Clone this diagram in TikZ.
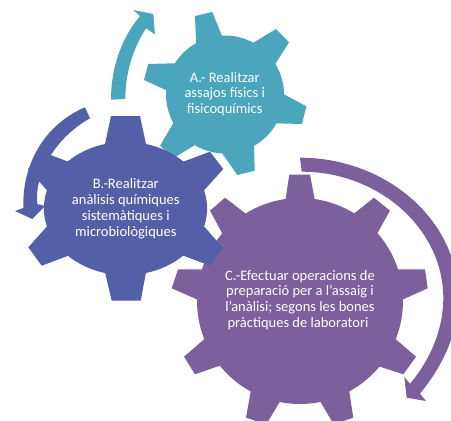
\documentclass[tikz,border=0pt]{standalone}
\usepackage{fontspec}
\setmainfont{Carlito}
\usepackage{tikz}
\usetikzlibrary{calc}

\definecolor{tealgear}{RGB}{75,166,189}
\definecolor{bluegear}{RGB}{83,96,168}
\definecolor{purplegear}{RGB}{123,96,155}

\tikzset{
    geartext/.style={text=white, align=center, font=\fontsize{14.5}{15.8}\selectfont, inner sep=0pt}
}

\newcommand{\geartooth}[5]{\fill[#1] ($#2!-4pt!#3$) -- #3 -- #4 -- ($#5!-4pt!#4$) -- cycle;}

\begin{document}
\begin{tikzpicture}[x=1pt, y=-1pt]
        \useasboundingbox (0, 0) rectangle (451, 421);
        \clip (0, 0) rectangle (451, 421);

        \fill[tealgear] (225, 94.5) ellipse [x radius=59, y radius=59];
        \geartooth{tealgear}{(196, 42)}{(195, 16)}{(212.3, 12)}{(225, 43.3)}
        \geartooth{tealgear}{(254, 42.3)}{(276, 29)}{(289, 42.3)}{(275.7, 63.3)}
        \geartooth{tealgear}{(283.3, 94)}{(306.3, 106.3)}{(302, 124)}{(275.7, 123.3)}
        \geartooth{tealgear}{(254, 144.3)}{(254.7, 170.7)}{(237.3, 175)}{(221.7, 152.7)}
        \geartooth{tealgear}{(195, 145)}{(173.3, 158.3)}{(160, 145.7)}{(173.3, 123.3)}
        \geartooth{tealgear}{(165.7, 90)}{(144, 80)}{(148.3, 64)}{(174, 63.3)}
        \fill[tealgear] (111, 99.7) .. controls (111, 70) and (120, 40) .. (140, 16)
            -- (133.3, 10) -- (153.3, 14) -- (155, 34.3) -- (146, 28.3)
            .. controls (132, 50) and (125.3, 75) .. (125.3, 99) -- cycle;

        \fill[purplegear] (300, 301) ellipse [x radius=103, y radius=103];
        \geartooth{purplegear}{(285.3, 200.7)}{(289.3, 174.7)}{(310, 174.7)}{(315, 200.7)}
        \geartooth{purplegear}{(354.3, 213.3)}{(374, 197.7)}{(390, 210.7)}{(377.3, 233.3)}
        \geartooth{purplegear}{(397.7, 269.3)}{(425, 269.3)}{(427.7, 288.3)}{(403.3, 299.3)}
        \geartooth{purplegear}{(396.7, 340)}{(416, 356.7)}{(403.3, 374.3)}{(380, 366.7)}
        \fill[purplegear] (348.7, 387.7) -- (353.3, 417.7) -- (343, 421) -- (331.7, 421) -- (319, 399.3) -- cycle;
        \fill[purplegear] (281.3, 399.3) -- (268.3, 421) -- (256, 421) -- (246, 417.7) -- (251.4, 387.7) -- cycle;
        \geartooth{purplegear}{(219, 366)}{(195, 374.3)}{(184, 356.7)}{(203.3, 340)}
        \geartooth{purplegear}{(196.7, 299.3)}{(171.7, 288.3)}{(178, 269.3)}{(201.7, 269.3)}
        \geartooth{purplegear}{(222, 233)}{(210, 210.7)}{(225, 197.7)}{(245, 213)}
        \fill[purplegear] (300, 157.7) .. controls (386, 157.7) and (458, 220) .. (458, 296)
            .. controls (458, 335) and (443, 365) .. (420, 393.7)
            -- (426, 401) -- (406.7, 397.7) -- (404.3, 377) -- (410, 383.7)
            .. controls (430, 360) and (443.3, 330) .. (443.3, 298)
            .. controls (443.3, 229) and (379, 171.7) .. (301.7, 171.7) -- cycle;

        \fill[bluegear] (125.5, 208.5) ellipse [x radius=81.6, y radius=66.6];
        \geartooth{bluegear}{(105, 144)}{(111, 116)}{(140, 116)}{(146, 144)}
        \geartooth{bluegear}{(183.3, 161.7)}{(210, 151.7)}{(223.3, 169)}{(204.3, 190)}
        \geartooth{bluegear}{(204.3, 226.7)}{(223.3, 248.3)}{(210, 265.7)}{(183.3, 255.7)}
        \geartooth{bluegear}{(146, 272.3)}{(140.7, 300.7)}{(111.7, 300.7)}{(105, 272.3)}
        \geartooth{bluegear}{(68.3, 255.7)}{(41.7, 265.7)}{(28.3, 247.3)}{(46.7, 226.7)}
        \geartooth{bluegear}{(46.7, 190)}{(28, 169)}{(41.7, 151.7)}{(68.3, 161.7)}
        \fill[bluegear] (85, 107.3) .. controls (48, 123) and (22, 160) .. (23.3, 208)
            -- (15, 211) -- (32.3, 219) -- (45, 206) -- (37.3, 204)
            .. controls (34, 175) and (55, 138) .. (90, 118.3) -- cycle;

        \node[geartext] (textA) at (224.7, 94) {A.- Realitzar\\assajos físics i\\fisicoquímics};
        \node[geartext] (textB) at (125.8, 208.7) {B.-Realitzar\\anàlisis químiques\\sistemàtiques i\\microbiològiques};
        \node[geartext] (textC) at (300, 300) {C.-Efectuar operacions de\\preparació per a l’assaig i\\l’anàlisi; segons les bones\\pràctiques de laboratori\hspace*{4pt}};
    \end{tikzpicture}
\end{document}
